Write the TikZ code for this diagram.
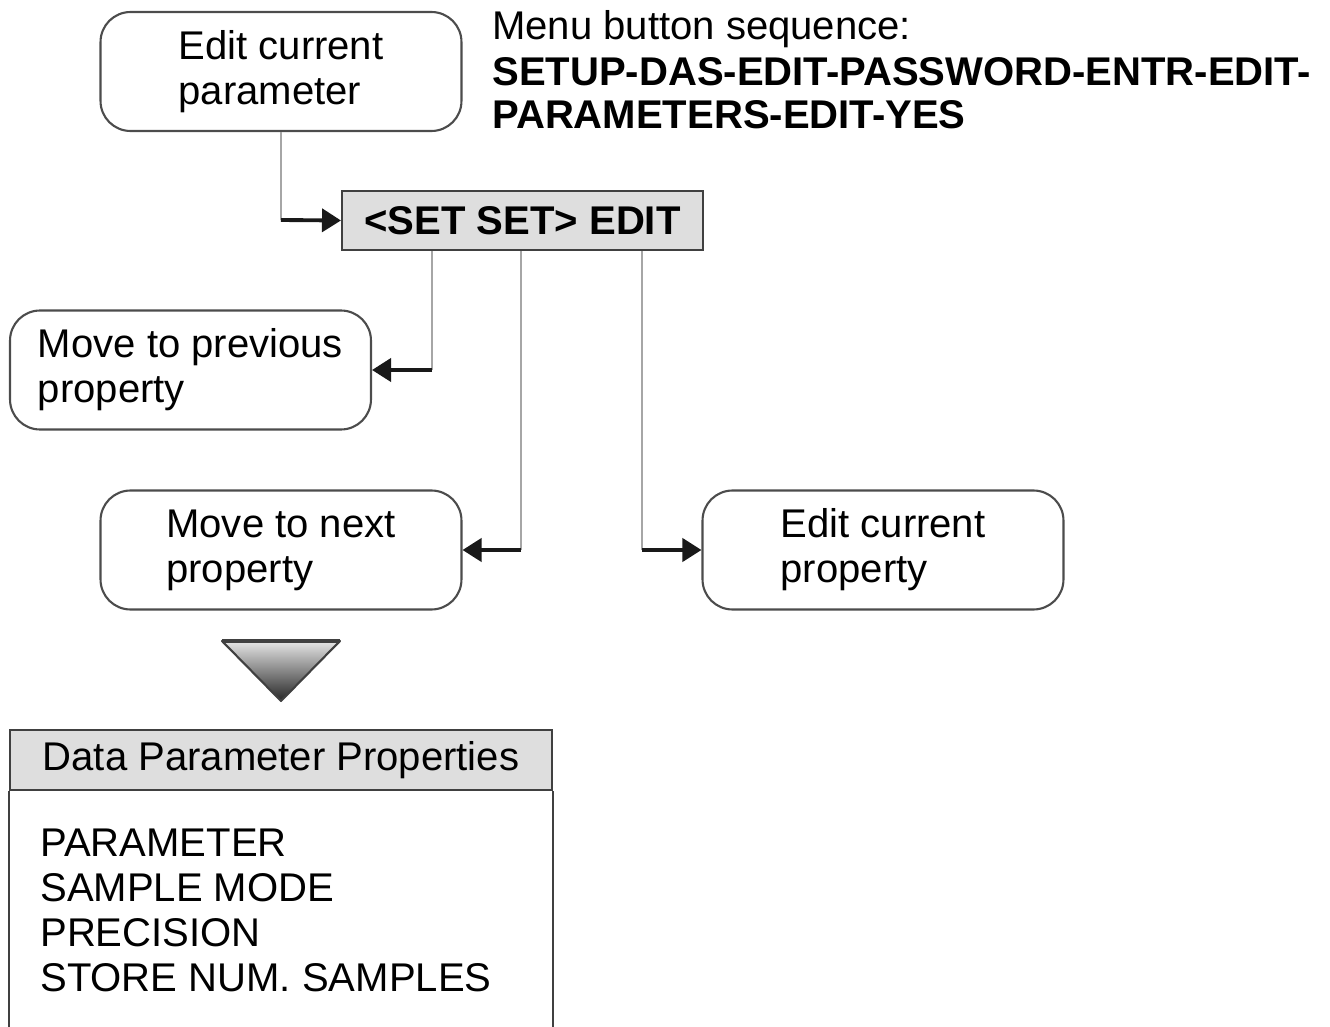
\documentclass[tikz,border=0pt]{standalone}
\usepackage{fontspec}
\setmainfont{Liberation Sans}
\usetikzlibrary{arrows.meta}
\begin{document}
\begin{tikzpicture}[x=0.02cm,y=-0.02cm,
  txt/.style={font=\fontsize{22.8}{25.6}\selectfont},
  btxt/.style={font=\fontsize{22.8}{25.6}\selectfont\bfseries},
  rbox/.style={txt, draw=black!70, line width=1.2pt, rounded corners=0.6cm, minimum width=7.22cm, minimum height=2.38cm, align=left, inner sep=0},
  gbox/.style={draw=black!75, fill=black!13, line width=1.2pt, inner sep=0},
  vline/.style={draw=black!35, line width=1.5pt},
  harrow/.style={draw=black!90, line width=2.2pt, -{Triangle[length=0.38cm,width=0.46cm]}},
  frame/.style={draw=black!75, line width=1.2pt},
]
\useasboundingbox (0,0) rectangle (1330,1027);

\node[rbox] (ecp) at (281,71.5) {Edit current\\parameter};
\node[txt, anchor=base west, inner sep=0] (menu) at (492,40) {Menu button sequence:};
\node[btxt, anchor=base west, inner sep=0] (seq1) at (492,86) {SETUP-DAS-EDIT-PASSWORD-ENTR-EDIT-};
\node[btxt, anchor=base west, inner sep=0] (seq2) at (492,129) {PARAMETERS-EDIT-YES};

\node[gbox, btxt, minimum width=7.22cm, minimum height=1.18cm] (set) at (522.5,220.5) {<SET SET> EDIT};

\node[rbox] (mpp) at (190.5,370) {Move to previous\\property};
\node[rbox] (mnp) at (281,550) {Move to next\\property};
\node[rbox] (ecpr) at (883,550) {Edit current\\property};

\coordinate (j0) at (281,220);
\draw[vline] (ecp.south) -- (j0);
\draw[harrow] (j0) -- (set.west);

\coordinate (j1) at (432,370);
\draw[vline] (set.south -| j1) -- (j1);
\draw[harrow] (j1) -- (mpp.east);

\coordinate (j2) at (521,550);
\draw[vline] (set.south -| j2) -- (j2);
\draw[harrow] (j2) -- (mnp.east);

\coordinate (j3) at (642,550);
\draw[vline] (set.south -| j3) -- (j3);
\draw[harrow] (j3) -- (ecpr.west);

% down triangle
\shade[top color=black!10, bottom color=black!85] (222,641) -- (340,641) -- (281,701) -- cycle;
\draw[frame, line join=round] (222,641) -- (340,641) -- (281,701) -- cycle;
\draw[draw=black!75, line width=1.8pt] (222,641) -- (340,641);

% data parameter properties box
\node[gbox, txt, minimum width=10.84cm, minimum height=1.2cm] (dpp) at (281,760) {Data Parameter Properties};
\draw[frame] (dpp.south west) -- ++(0,280);
\draw[frame] (dpp.south east) -- ++(0,280);
\node[txt, anchor=north west, inner sep=0, align=left] (list) at (40,829) {PARAMETER\\SAMPLE MODE\\PRECISION\\STORE NUM. SAMPLES};
\end{tikzpicture}
\end{document}
